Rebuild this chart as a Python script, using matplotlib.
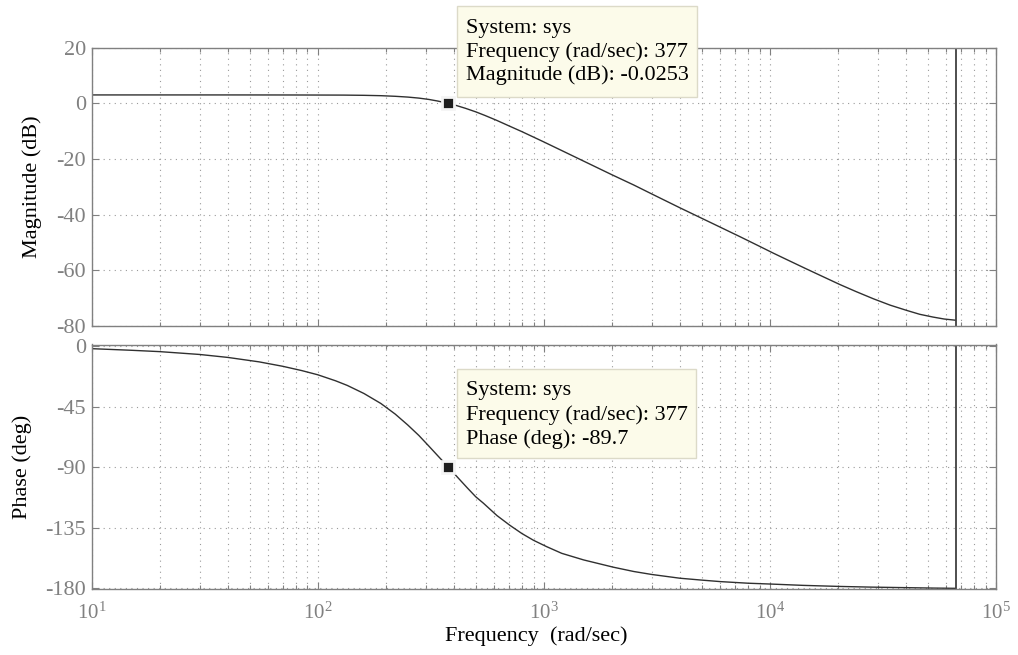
import numpy as np
import matplotlib
matplotlib.use("Agg")
import matplotlib.pyplot as plt
from matplotlib.ticker import FixedLocator, FixedFormatter, LogLocator, NullFormatter
from matplotlib.patches import Rectangle

plt.rcParams['font.family'] = ['Liberation Serif', 'DejaVu Serif']
plt.rcParams['mathtext.fontset'] = 'custom'
plt.rcParams['mathtext.rm'] = 'Liberation Serif'

# ---- data ----
mag_freq = [10, 15, 20, 30, 40, 60, 80, 100, 130, 160, 190, 220, 250, 280, 310,
            340, 377, 410, 450, 500, 550, 620, 700, 800, 900, 1000, 1200, 1500,
            2000, 2500, 3000, 4000, 5500, 7380, 9000, 10350, 12000, 14520,
            17000, 20400, 24000, 28650, 34000, 40270, 46000, 52700, 59000, 65800]
mag_db = [3.01, 3.01, 3.01, 3.01, 3.01, 3.0, 2.99, 2.97, 2.95, 2.87, 2.74, 2.52,
          2.24, 1.87, 1.39, 0.80, -0.0253, -0.79, -1.80, -3.08, -4.4, -6.17,
          -8.1, -10.2, -12.15, -13.9, -17.0, -20.8, -25.7, -29.4, -32.6, -37.6,
          -43.0, -48.0, -51.45, -53.9, -56.4, -59.6, -62.2, -65.2, -67.7, -70.3,
          -72.6, -74.5, -75.9, -76.9, -77.6, -78.0]

ph_freq = [10, 15, 20, 30, 40, 55, 70, 85, 100, 120, 135, 160, 190, 220, 250,
           280, 310, 340, 377, 418, 460, 500, 540, 620, 708, 800, 900, 1028,
           1200, 1500, 2030, 2500, 3000, 4000, 5000, 6030, 8000, 10350, 14000,
           20400, 28000, 40000, 52000, 65800]
ph_deg = [-1.9, -3.1, -4.1, -6.2, -8.4, -11.7, -15.0, -18.2, -21.3, -25.8,
          -29.2, -35.2, -42.6, -50.5, -58.6, -66.4, -74.3, -81.6, -89.7, -98.0,
          -105.6, -112.0, -116.7, -125.9, -133.2, -139.3, -144.3, -149.0,
          -154.0, -158.9, -164.3, -167.5, -169.7, -172.5, -173.9, -175.0,
          -176.2, -176.9, -177.8, -178.6, -179.1, -179.5, -179.8, -180.0]

nyquist = 6.65e4
dt_freq = 377
dt_mag = -0.0253
dt_phase = -89.7

mag_ticks = [-80, -60, -40, -20, 0, 20]
ph_ticks = [-180, -135, -90, -45, 0]
x_exponents = [1, 2, 3, 4, 5]

tip1 = ["System: sys", "Frequency (rad/sec): 377", "Magnitude (dB): -0.0253"]
tip2 = ["System: sys", "Frequency (rad/sec): 377", "Phase (deg): -89.7"]

# ---- figure ----
W, H = 1018, 655
fig = plt.figure(figsize=(W / 100, H / 100), dpi=100)

def fx(px):
    return px / W

def fy(py):
    return 1 - py / H

L, R = 91.7, 996
ax1 = fig.add_axes([fx(L), fy(325.7), fx(R - L), (325.7 - 47.7) / H])
ax2 = fig.add_axes([fx(L), fy(589), fx(R - L), (589 - 344.5) / H])

tick_gray = '#808080'
line_col = '#303030'
grid_kw = dict(color='#9a9a9a', linestyle=(0, (1, 4)), linewidth=0.8)
fs = 16

for ax in (ax1, ax2):
    ax.set_xscale('log')
    ax.set_xlim(10, 1e5)
    ax.xaxis.set_major_locator(FixedLocator([10.0 ** e for e in x_exponents]))
    ax.xaxis.set_minor_locator(LogLocator(base=10, subs=np.arange(2, 10), numticks=20))
    ax.xaxis.set_minor_formatter(NullFormatter())
    ax.grid(True, which='major', axis='both', **grid_kw)
    ax.grid(True, which='minor', axis='x', **grid_kw)
    ax.tick_params(which='both', direction='in', top=True, right=True,
                   colors=tick_gray, labelsize=fs)
    ax.tick_params(which='major', length=5, width=0.8)
    ax.tick_params(which='minor', length=3, width=0.8)
    ax.tick_params(axis='y', pad=4)
    for s in ax.spines.values():
        s.set_color(tick_gray)
        s.set_linewidth(1.0)
    ax.set_axisbelow(True)
    ax.axvline(nyquist, color='#404040', linewidth=1.3)

ax1.plot(mag_freq, mag_db, color=line_col, linewidth=1.0)
ax1.set_ylim(-80, 20)
ax1.set_yticks(mag_ticks)
ax1.set_yticklabels([str(t) for t in mag_ticks])
ax1.xaxis.set_major_formatter(NullFormatter())
ax1.set_ylabel('Magnitude (dB)', fontsize=fs, color='black', va='center')
ax1.yaxis.set_label_coords((31.7 - L) / (R - L), 0.5)
ax1.plot([dt_freq], [dt_mag], marker='s', markersize=9, color='#1e1e1e',
         markeredgecolor='#f4f4f4', markeredgewidth=2, zorder=5, clip_on=False)

ax2.plot(ph_freq, ph_deg, color=line_col, linewidth=1.0)
ax2.set_ylim(-180.5, 1.2)
ax2.set_yticks(ph_ticks)
ax2.set_yticklabels([str(t) for t in ph_ticks])
ax2.xaxis.set_major_formatter(FixedFormatter([r'$\mathregular{10^{%d}}$' % e for e in x_exponents]))
ax2.tick_params(axis='x', which='major', pad=10, labelsize=15)
ax2.set_ylabel('Phase (deg)', fontsize=fs, color='black', va='center')
ax2.yaxis.set_label_coords((22 - L) / (R - L), 0.5)
ax2.set_xlabel('Frequency  (rad/sec)', fontsize=fs, color='black', va='center')
ax2.xaxis.set_label_coords((536 - L) / (R - L), (589 - 636) / (589 - 344.5))
ax2.plot([dt_freq], [dt_phase], marker='s', markersize=9, color='#1e1e1e',
         markeredgecolor='#f4f4f4', markeredgewidth=2, zorder=5, clip_on=False)

# ---- data tips ----
renderer = fig.canvas.get_renderer()

def tip(x0, y0, y1, lines, ys, tx):
    texts = []
    for s, yy in zip(lines, ys):
        texts.append(fig.text(fx(tx), fy(yy), s, fontsize=fs, color='black',
                              va='center', ha='left', zorder=11))
    wmax = max(t.get_window_extent(renderer).width for t in texts)
    x1 = tx + wmax + (tx - x0)
    rect = Rectangle((fx(x0), fy(y1)), fx(x1 - x0), (y1 - y0) / H,
                     transform=fig.transFigure, facecolor='#fcfbea',
                     edgecolor='#dcdac8', linewidth=1.0, zorder=10)
    fig.add_artist(rect)

tip(457, 6, 96.7, tip1, [28.3, 51.7, 75.0], 465.7)
tip(457, 369.3, 457.7, tip2, [390.7, 415.0, 439.3], 465.7)

fig.savefig('out.png', dpi=100)
